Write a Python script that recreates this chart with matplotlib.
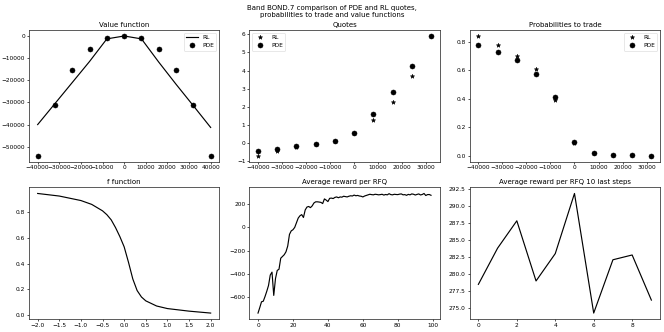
import numpy as np
from matplotlib import pyplot as plt

# inventories
inv_value = [-40000, -32000, -24000, -16000, -8000, 0, 8000, 16000, 24000, 32000, 40000]
inv_quote = [-40000, -32000, -24000, -16000, -8000, 0, 8000, 16000, 24000, 32000]

# value function
value_rl = [-40000, -30500, -21000, -11500, -1300, 0, -1300, -11800, -21800, -31500, -41300]
value_pde = [-54000, -31000, -15300, -5800, -1000, 0, -1000, -5800, -15300, -31000, -54000]

# quotes
quotes_rl = [-0.68, -0.4, -0.18, -0.05, 0.1, 0.55, 1.3, 2.25, 3.7, 5.9]
quotes_pde = [-0.4, -0.3, -0.15, -0.03, 0.13, 0.55, 1.6, 2.82, 4.25, 5.9]

# probabilities to trade
proba_rl = [0.84, 0.78, 0.70, 0.61, 0.39, 0.09, 0.02, 0.005, 0.002, 0.0]
proba_pde = [0.775, 0.73, 0.67, 0.575, 0.415, 0.093, 0.018, 0.006, 0.002, 0.0]

# f function
f_x = [-2.0, -1.5, -1.0, -0.75, -0.5, -0.4, -0.3, -0.2, -0.1, 0.0,
       0.1, 0.2, 0.3, 0.4, 0.5, 0.75, 1.0, 1.5, 2.0]
f_y = [0.945, 0.925, 0.89, 0.86, 0.81, 0.78, 0.74, 0.68, 0.61, 0.53,
       0.41, 0.28, 0.19, 0.14, 0.11, 0.07, 0.05, 0.03, 0.015]

# average reward per RFQ
reward = [-737, -690, -640, -635, -595, -550, -500, -410, -385, -585,
          -440, -370, -360, -265, -250, -235, -210, -160, -60, -30,
          -20, 0, 40, 80, 100, 110, 85, 150, 175, 180,
          170, 185, 210, 220, 220, 218, 215, 205, 245, 235,
          222, 250, 252, 248, 258, 262, 255, 262, 260, 268,
          265, 262, 268, 272, 270, 278, 272, 275, 270, 268,
          262, 270, 275, 280, 285, 282, 280, 285, 283, 280,
          282, 285, 278, 283, 280, 290, 282, 280, 285, 283,
          282, 286, 288, 280, 282, 276, 284, 280, 288, 285,
          278.5, 283.8, 287.8, 279.0, 283.0, 291.8, 274.3, 282.1, 282.8, 276.2]
last_steps = reward[-10:]

plt.rcParams.update({
    'lines.linewidth': 2.1,
    'lines.markersize': 9,
    'axes.linewidth': 1.4,
    'axes.edgecolor': '#333333',
    'xtick.major.width': 1.2,
    'ytick.major.width': 1.2,
    'xtick.labelsize': 10.5,
    'ytick.labelsize': 10.5,
    'axes.titlesize': 12.5,
    'figure.titlesize': 12.5,
    'legend.fontsize': 10.5,
})

fig, axs = plt.subplots(2, 3, figsize=(16.6, 8.3))
fig.suptitle('Band BOND.7 comparison of PDE and RL quotes,\nprobabilities to trade and value functions', y=0.985)

axs[0, 0].plot(inv_value, value_rl, 'k-', label='RL')
axs[0, 0].plot(inv_value, value_pde, 'ko', label='PDE')
axs[0, 0].set_title('Value function')
axs[0, 0].legend(loc='upper right')

axs[0, 1].plot(inv_quote, quotes_rl, 'k*', ms=8, label='RL')
axs[0, 1].plot(inv_quote, quotes_pde, 'ko', label='PDE')
axs[0, 1].set_title('Quotes')
axs[0, 1].legend(loc='upper left')

axs[0, 2].plot(inv_quote, proba_rl, 'k*', ms=8, label='RL')
axs[0, 2].plot(inv_quote, proba_pde, 'ko', label='PDE')
axs[0, 2].set_title('Probabilities to trade')
axs[0, 2].legend(loc='upper right')

axs[1, 0].plot(f_x, f_y, 'k-')
axs[1, 0].set_title('f function')

axs[1, 1].plot(np.arange(len(reward)), reward, 'k-')
axs[1, 1].set_title('Average reward per RFQ')

axs[1, 2].plot(np.arange(len(last_steps)), last_steps, 'k-')
axs[1, 2].set_title('Average reward per RFQ 10 last steps')

fig.subplots_adjust(left=0.0437, right=0.994, bottom=0.039, top=0.9096,
                    wspace=0.158, hspace=0.197)
plt.savefig('out.png', dpi=40)
